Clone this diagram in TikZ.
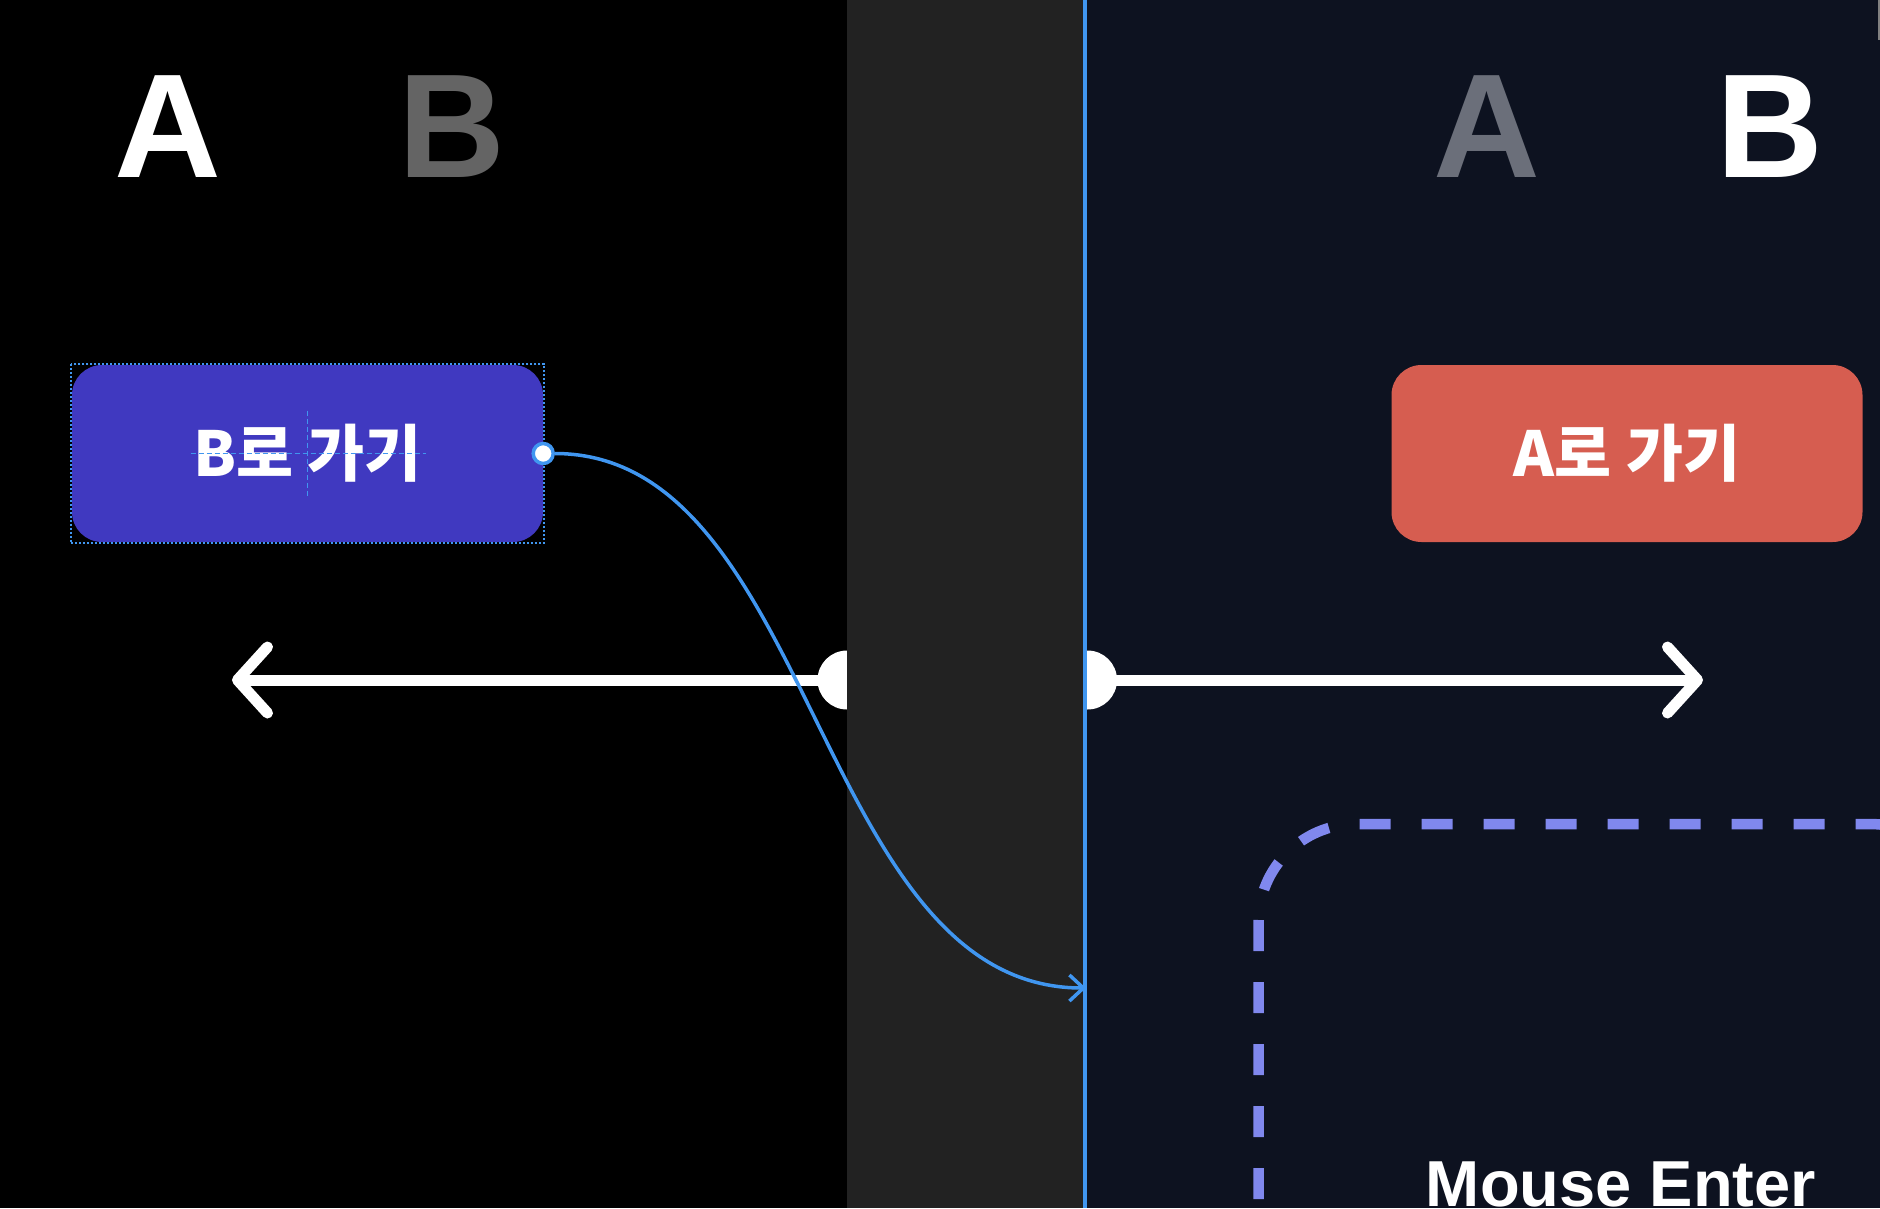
\documentclass[tikz,border=0pt]{standalone}
\usepackage{fontspec}
\setmainfont{Liberation Sans}
\newfontfamily\krfont{Noto Sans CJK KR}
\usetikzlibrary{arrows.meta,calc}
\definecolor{PanelNavy}{RGB}{13,18,32}
\definecolor{StripGray}{RGB}{34,34,34}
\definecolor{LinkBlue}{RGB}{64,150,240}
\definecolor{BtnIndigo}{RGB}{64,57,192}
\definecolor{BtnRed}{RGB}{214,93,80}
\definecolor{HoverLilac}{RGB}{128,136,238}
\definecolor{DimGray}{RGB}{100,100,100}
\definecolor{DimSlate}{RGB}{107,111,122}

\begin{document}
\begin{tikzpicture}[x=1pt,y=-1pt,
  big/.style={anchor=base,font=\fontsize{148}{148}\selectfont\bfseries},
  btn/.style={rounded corners=30pt,minimum width=471pt,minimum height=177pt,
              inner sep=0pt,text=white,font=\krfont\fontsize{62}{62}\selectfont\bfseries},
  knob/.style={circle,fill=white,minimum size=59pt,inner sep=0pt},
  track/.style={draw=white,line width=11pt,
                -{Straight Barb[round,length=30pt,width=66pt]}},
  guide/.style={LinkBlue,line width=1.5pt,dash pattern=on 5pt off 3pt},
]
\useasboundingbox (0,0) rectangle (1880,1208);
\fill[black] (0,0) rectangle (847,1208);
\fill[PanelNavy] (847,0) rectangle (1880,1208);
\fill[gray] (1878,0) rectangle (1880,40);

\node[knob] (knobl) at (847,680) {};
\node[knob] (knobr) at (1087.5,680) {};
\coordinate (tipl) at (232,680);
\coordinate (tipr) at (1703,680);
\draw[track] (knobl.center) -- (tipl);
\draw[track] (knobr.center) -- (tipr);

\fill[StripGray] (847,0) rectangle (1085,1208);
\draw[LinkBlue,line width=4pt] (1085.3,0) -- (1085.3,1208);

\node[big,text=white] (la) at (168,177) {A};
\node[big,text=DimGray] (lb) at (452,177) {B};
\node[big,text=DimSlate] (ra) at (1487,177) {A};
\node[big,text=white] (rb) at (1770,177) {B};

\node[btn,fill=BtnIndigo] (btnb) at (307.5,453.5) {B로 가기};
\node[btn,fill=BtnRed] (btna) at (1627,453.5) {A로 가기};
\draw[LinkBlue,line width=1.5pt,dash pattern=on 2pt off 2pt]
  ($(btnb.north west)+(-1,-1)$) rectangle ($(btnb.south east)+(1,1)$);
\draw[guide] ($(btnb.center)+(-117,0)$) -- ($(btnb.center)+(118,0)$);
\draw[guide] ($(btnb.center)+(0,-43)$) -- ($(btnb.center)+(0,44)$);

\draw[HoverLilac,line width=10.5pt,dash pattern=on 31pt off 31pt,dash phase=21pt,
  rounded corners=98pt] (1258.5,1240) -- (1258.5,824) -- (1968,824) -- (1968,1240);
\node[font=\fontsize{65}{65}\selectfont\bfseries,text=white,anchor=base] (hover)
  at (1621,1206) {Mouse Enter};

\node[circle,fill=white,draw=LinkBlue,line width=3.5pt,minimum size=20pt,
  inner sep=0pt] (handle) at (btnb.east) {};
\coordinate (enter) at (1086,988);
\draw[LinkBlue,line width=3.5pt,-{Straight Barb[length=14pt,width=26pt]}]
  (handle.east) .. controls +(260,0) and +(-270,0) .. (enter);
\end{tikzpicture}
\end{document}
